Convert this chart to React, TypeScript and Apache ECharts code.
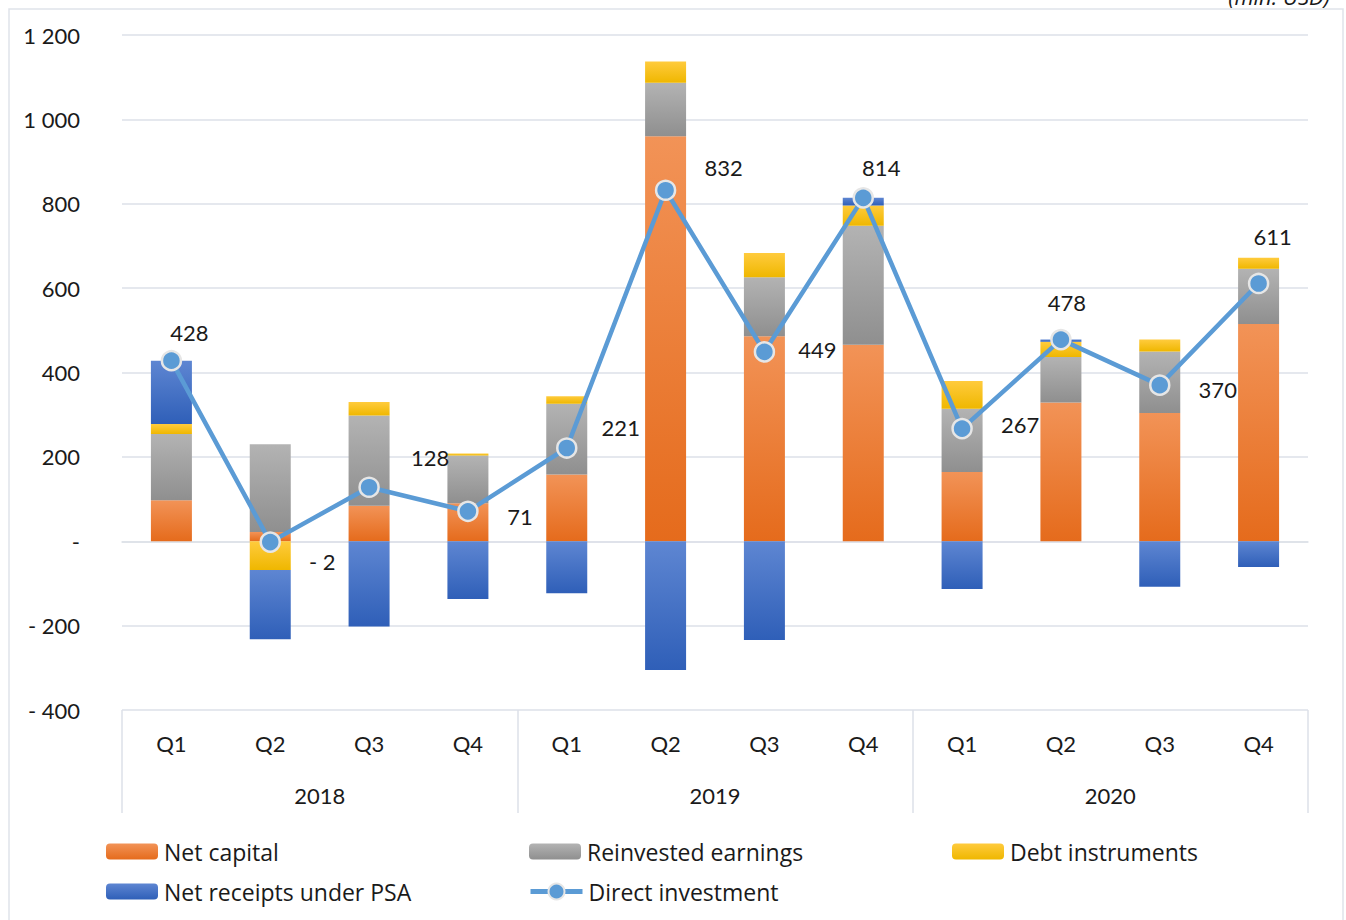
import React, { useEffect, useRef } from "react";
import * as echarts from "echarts";

const quarters = ["Q1", "Q2", "Q3", "Q4", "Q1", "Q2", "Q3", "Q4", "Q1", "Q2", "Q3", "Q4"];
const years = ["2018", "2019", "2020"];
const netCapital = [97, 22, 84, 90, 158, 960, 486, 466, 164, 329, 304, 515];
const reinvested = [157, 208, 214, 113, 168, 127, 140, 282, 150, 108, 146, 131];
const debt = [24, -68, 32, 5, 18, 50, 57, 48, 66, 36, 28, 26];
const psa = [150, -164, -202, -137, -123, -305, -234, 18, -113, 5, -108, -61];
const direct = [428, -2, 128, 71, 221, 832, 449, 814, 267, 478, 370, 611];
const yTicks = { min: -400, max: 1200, interval: 200 };

// label offsets (layout only)
const labelOffsets: [number, number][] = [
  [18, -28], [52, 19], [61, -30], [52, 5], [54, -21], [58, -23],
  [53, -2], [18, -30], [58, -4], [6, -37], [58, 4], [14, -47],
];

const FONT = "Lato, 'Open Sans', sans-serif";
const LEGEND_FONT = "'Open Sans', Lato, sans-serif";
const TXT = "#1a1a1a";
const GRID = "#dde1e8";
const LINE = "#5b9bd5";

function fmt(v: number): string {
  if (v === 0) return "-";
  const a = Math.abs(v);
  const s = String(a).replace(/\B(?=(\d{3})+(?!\d))/g, " ");
  return (v < 0 ? "- " : "") + s;
}

function grad(top: string, bottom: string) {
  return new echarts.graphic.LinearGradient(0, 0, 0, 1, [
    { offset: 0, color: top },
    { offset: 1, color: bottom },
  ]);
}

export default function App() {
  const ref = useRef<HTMLDivElement>(null);
  useEffect(() => {
    if (!ref.current) return;
    const chart = echarts.init(ref.current, undefined, { renderer: "svg" });
    const barBase = {
      type: "bar" as const,
      stack: "total",
      barWidth: 41,
      xAxisIndex: 0,
    };
    const legendBase = {
      itemWidth: 52,
      itemHeight: 16,
      padding: 0,
      itemGap: 0,
      textStyle: { fontSize: 23, color: TXT, fontFamily: LEGEND_FONT, padding: [0, 0, 0, 1] },
    };
    chart.setOption({
      animation: false,
      textStyle: { fontFamily: FONT },
      grid: { left: 122, right: 38, top: 35, bottom: 210, containLabel: false },
      xAxis: [
        {
          type: "category",
          data: quarters,
          position: "bottom",
          axisLine: { show: true, lineStyle: { color: GRID, width: 1.5 } },
          axisTick: { show: false },
          axisLabel: { margin: 22, fontSize: 22, color: TXT, fontFamily: FONT, interval: 0 },
        },
        {
          type: "category",
          data: years,
          position: "bottom",
          axisLine: { show: false },
          axisTick: { show: true, length: 103, interval: 0, lineStyle: { color: GRID, width: 1.5 } },
          axisLabel: { margin: 74, fontSize: 22, color: TXT, fontFamily: FONT, interval: 0 },
        },
      ],
      yAxis: {
        type: "value",
        min: yTicks.min,
        max: yTicks.max,
        interval: yTicks.interval,
        axisLine: { show: false },
        axisTick: { show: false },
        splitLine: { lineStyle: { color: GRID, width: 1.5 } },
        axisLabel: {
          margin: 42,
          fontSize: 22,
          color: TXT,
          fontFamily: FONT,
          formatter: (v: number) => fmt(v),
        },
      },
      legend: [
        { ...legendBase, data: ["Net capital"], left: 106, top: 840 },
        { ...legendBase, data: ["Reinvested earnings"], left: 529, top: 840 },
        { ...legendBase, data: ["Debt instruments"], left: 952, top: 840 },
        { ...legendBase, data: ["Net receipts under PSA"], left: 106, top: 880 },
        {
          ...legendBase,
          itemHeight: 20,
          data: [
            {
              name: "Direct investment",
              lineStyle: { width: 5, color: LINE },
              itemStyle: { color: LINE, borderColor: "#e6e6e6", borderWidth: 2 },
            },
          ],
          left: 528,
          top: 880,
        },
      ],
      graphic: [
        {
          type: "rect",
          shape: { x: 9, y: 9, width: 1334, height: 930 },
          style: { fill: "none", stroke: "#dfe3ea", lineWidth: 1.5 },
          silent: true,
        },
        {
          type: "text",
          x: 1330,
          y: 7,
          style: {
            text: "(mln. USD)",
            align: "right",
            verticalAlign: "bottom",
            fontSize: 22,
            fontStyle: "italic",
            fontFamily: LEGEND_FONT,
            fill: TXT,
          },
        },
      ],
      series: [
        {
          ...barBase,
          name: "Net capital",
          data: netCapital,
          itemStyle: { color: grad("#f29357", "#e56b1c") },
        },
        {
          ...barBase,
          name: "Reinvested earnings",
          data: reinvested,
          itemStyle: { color: grad("#b3b3b3", "#8f8f8f") },
        },
        {
          ...barBase,
          name: "Debt instruments",
          data: debt,
          itemStyle: { color: grad("#ffcb3d", "#efb700") },
        },
        {
          ...barBase,
          name: "Net receipts under PSA",
          data: psa,
          itemStyle: { color: grad("#5e86d2", "#2f5fb8") },
        },
        {
          type: "line",
          name: "Direct investment",
          xAxisIndex: 0,
          z: 5,
          data: direct.map((v, i) => ({
            value: v,
            label: { offset: labelOffsets[i] },
          })),
          symbol: "circle",
          symbolSize: 19,
          lineStyle: { color: LINE, width: 4.5 },
          itemStyle: { color: LINE, borderColor: "#e6e6e6", borderWidth: 2.5 },
          label: {
            show: true,
            position: "inside",
            fontSize: 22,
            color: TXT,
            fontFamily: FONT,
            formatter: (p: any) => fmt(p.value),
          },
        },
      ],
    });
    return () => chart.dispose();
  }, []);
  return (
    <div
      ref={ref}
      style={{ position: "absolute", left: 0, top: 0, width: 1346, height: 920, background: "#fff" }}
    />
  );
}
